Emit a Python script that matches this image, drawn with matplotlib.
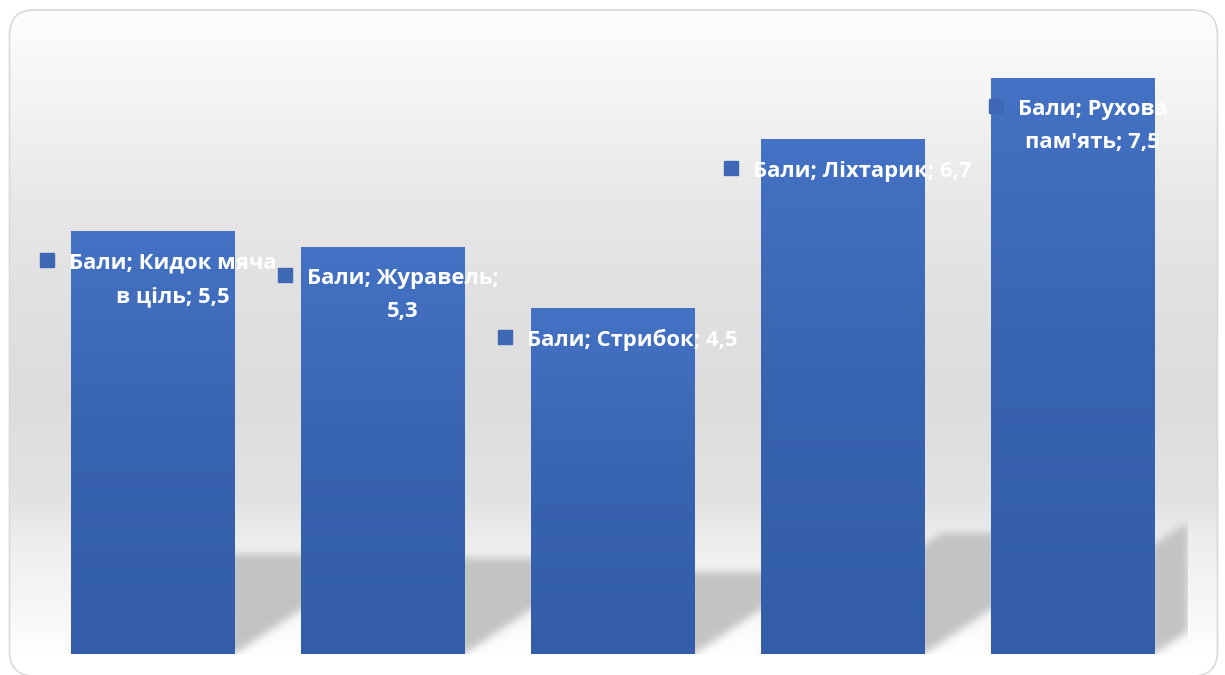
import textwrap
import numpy as np
import matplotlib.pyplot as plt
from matplotlib import font_manager
from matplotlib.colors import LinearSegmentedColormap
from matplotlib.patches import FancyBboxPatch
from matplotlib.transforms import offset_copy

# data
series_name = "Бали"
categories = ["Кидок мяча в ціль", "Журавель", "Стрибок", "Ліхтарик", "Рухова пам'ять"]
values = [5.5, 5.3, 4.5, 6.7, 7.5]
wrap_widths = [16, 16, None, None, 12]

# pick a family that really has a bold face
label_family = "DejaVu Sans"
for fam in ["Noto Sans", "Open Sans", "Roboto", "Liberation Sans"]:
    path = font_manager.findfont(font_manager.FontProperties(family=fam, weight="bold"),
                                 fallback_to_default=False)
    if "bold" in path.lower() and fam.replace(" ", "").lower() in path.replace(" ", "").lower():
        label_family = fam
        break

W, H = 1225, 675
fig = plt.figure(figsize=(W / 100, H / 100), dpi=100)
fig.patch.set_facecolor("white")

# background card with soft vertical gradient
bg = fig.add_axes([0, 0, 1, 1])
bg.set_xlim(0, W)
bg.set_ylim(H, 0)
bg.axis("off")
stops_y = [10, 100, 200, 300, 400, 500, 545, 600, 655]
stops_v = [0.995, 0.955, 0.91, 0.88, 0.866, 0.89, 0.935, 0.965, 1.0]
shade = np.interp(np.arange(H), stops_y, stops_v)
grad = np.dstack([np.repeat(shade[:, None], 2, axis=1)] * 3)
img = bg.imshow(grad, extent=[0, W, H, 0], aspect="auto", interpolation="bilinear")
card = FancyBboxPatch((9.5, 10), 1208, 666, boxstyle="round,pad=0,rounding_size=25",
                      fc="none", ec="#d9d9d9", lw=1.2)
bg.add_patch(card)
img.set_clip_path(card)

# plot area
ax = fig.add_axes([38 / W, 21 / H, 1150 / W, 614 / H])
ax.patch.set_alpha(0)
ax.axis("off")

x = np.arange(len(values))
bars = ax.bar(x, values, width=0.713, color="none", zorder=3)

bar_cmap = LinearSegmentedColormap.from_list("bar", ["#335da8", "#3863b0", "#4472c4"])
for b in bars:
    ax.imshow(np.linspace(0, 1, 256)[:, None],
              extent=[b.get_x(), b.get_x() + b.get_width(), 0, b.get_height()],
              origin="lower", cmap=bar_cmap, aspect="auto", zorder=3)

# slanted soft shadows behind bars
nx, ny = 1150, 614
X, Y = np.meshgrid(np.linspace(-0.5, 4.5, nx), np.linspace(0, 8, ny))
k = 1.5 * (ny / 8) / (nx / 5)
mask = np.zeros_like(X, dtype=bool)
for b in bars:
    hs = 0.235 * b.get_height()
    L = b.get_x()
    R = L + b.get_width()
    mask |= (Y <= hs) & (X >= L + k * Y) & (X <= R + k * Y)
mask = mask.astype(float)
kern = np.exp(-0.5 * (np.arange(-12, 13) / 4.0) ** 2)
kern /= kern.sum()
mask = np.apply_along_axis(lambda r: np.convolve(r, kern, mode="same"), 1, mask)
mask = np.apply_along_axis(lambda c: np.convolve(c, kern, mode="same"), 0, mask)
rgba = np.zeros((ny, nx, 4))
rgba[..., :3] = 0.765
rgba[..., 3] = mask
ax.imshow(rgba, extent=[-0.5, 4.5, 0, 8], origin="lower", aspect="auto", zorder=1)

ax.set_xlim(-0.5, 4.5)
ax.set_ylim(0, 8)

# data labels
font = dict(color="white", fontsize=15.8, fontweight="bold",
            family=[label_family, "DejaVu Sans"])
line_gap = 33
renderer = fig.canvas.get_renderer()
for i, (cat, v, ww) in enumerate(zip(categories, values, wrap_widths)):
    text = f"{series_name}; {cat}; {str(v).replace('.', ',')}"
    lines = textwrap.wrap(text, ww) if ww else [text]
    dy = -37 - line_gap * (len(lines) - 1)
    tr = offset_copy(ax.transData, fig=fig, x=19.5, y=dy, units="dots")
    ax.text(i, v, "\n".join(lines), transform=tr, ha="center", va="baseline",
            multialignment="center", linespacing=1.77, zorder=5, **font)
    tmp = ax.text(0, 0, lines[0], **font)
    w1 = tmp.get_window_extent(renderer).width
    tmp.remove()
    mtr = offset_copy(ax.transData, fig=fig, x=19.5 - w1 / 2 - 22, y=-37 + 9, units="dots")
    ax.plot([i], [v], marker="s", ms=9.5, color="#3e68b6", transform=mtr,
            zorder=5, clip_on=False)

fig.savefig("out.png", dpi=100)
